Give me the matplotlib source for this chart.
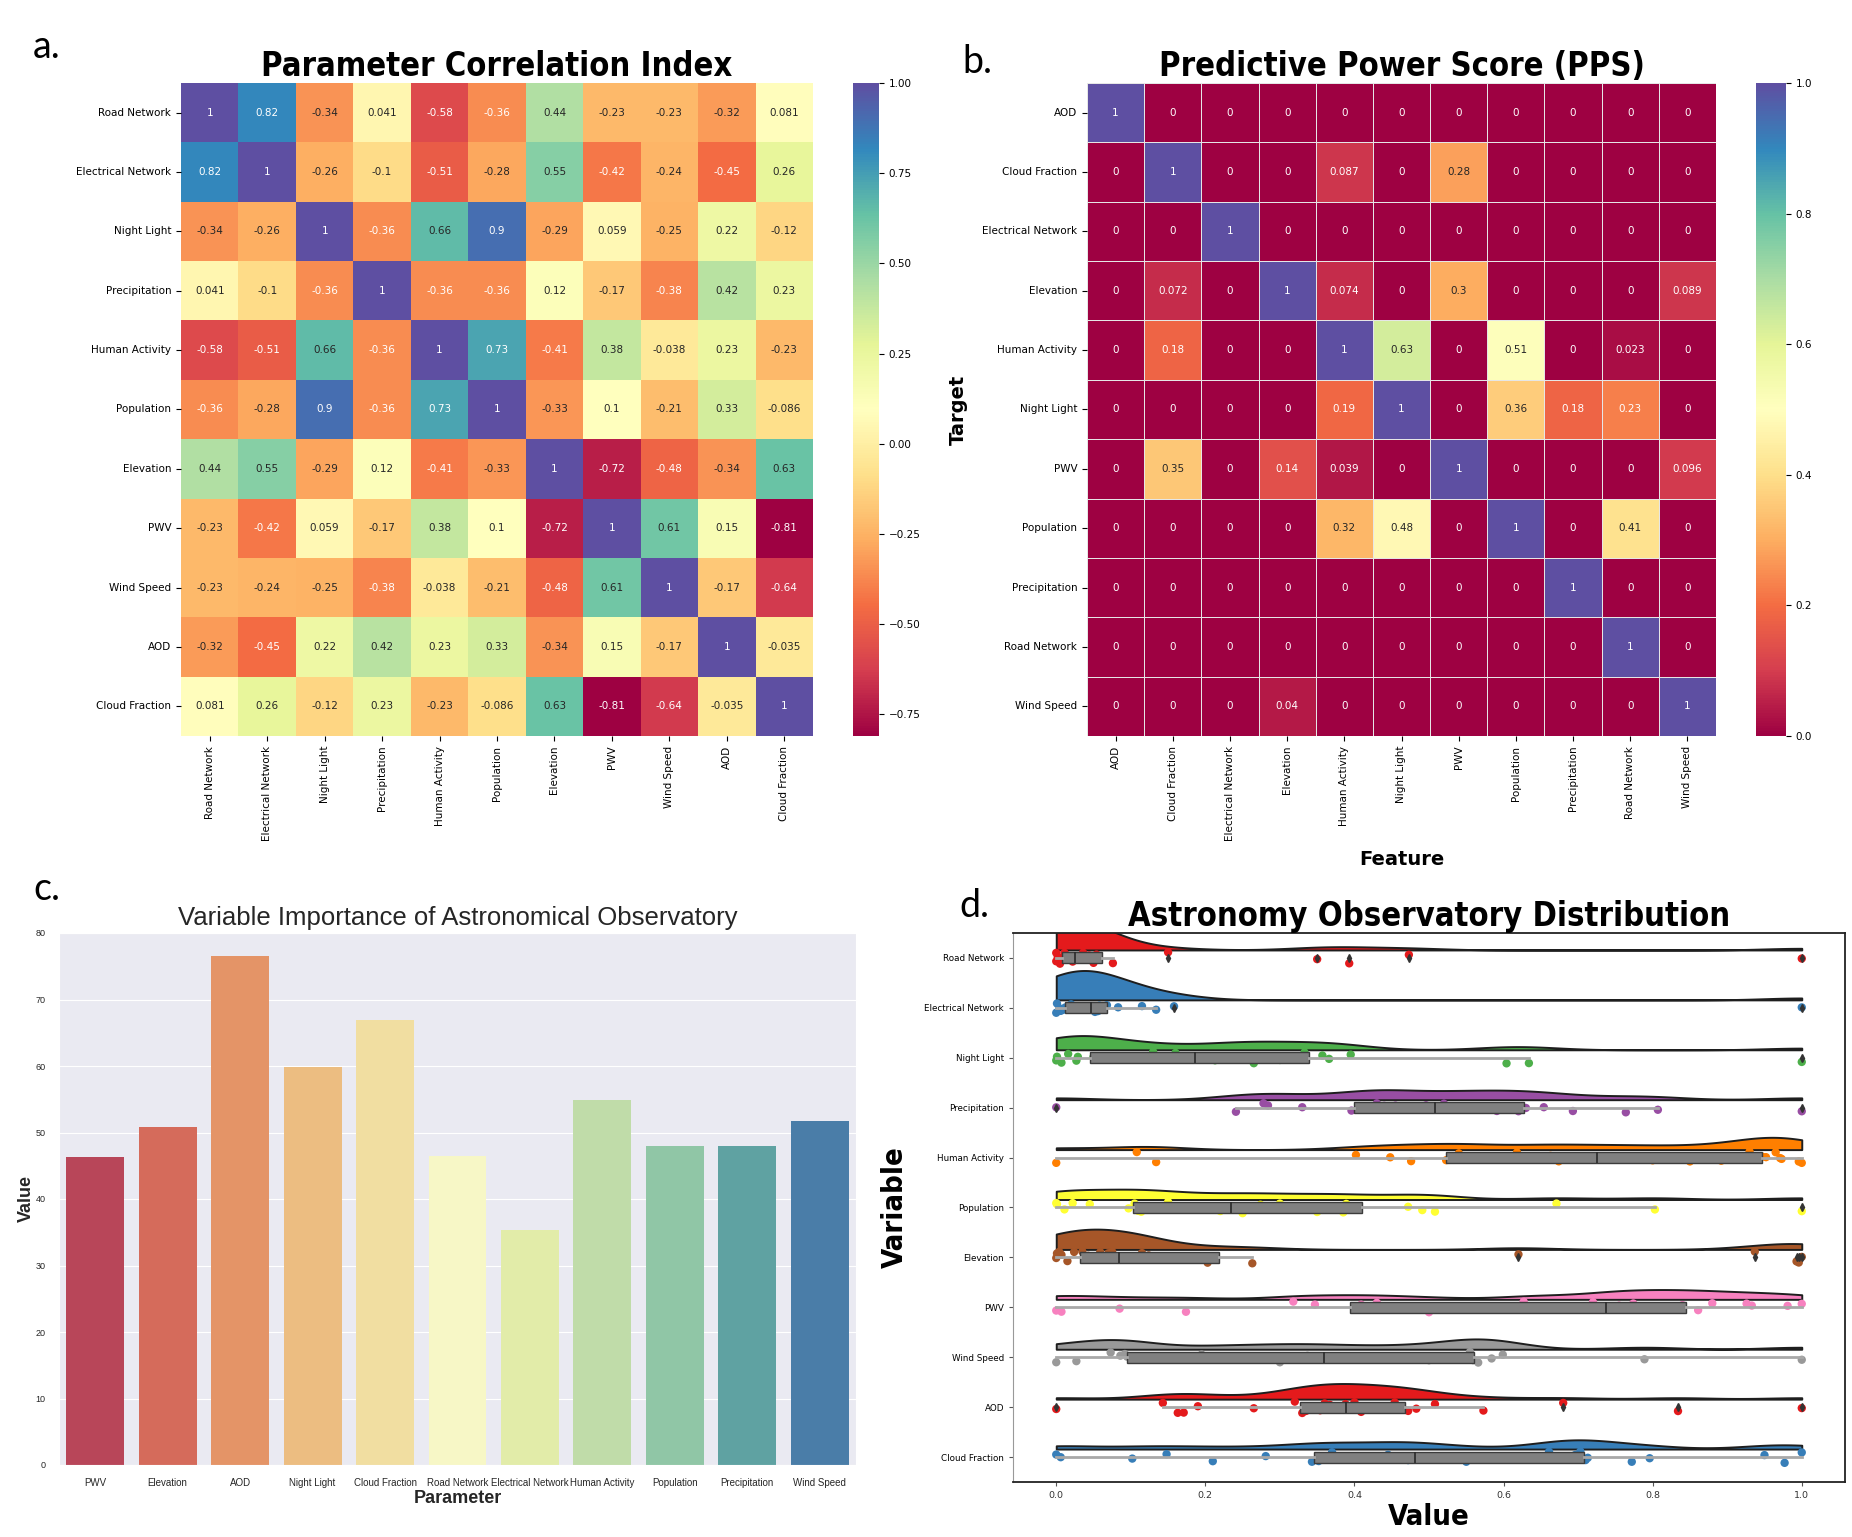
import numpy as np
import pandas as pd
import matplotlib
matplotlib.use('Agg')
import matplotlib.pyplot as plt
import seaborn as sns

# ---------------- data ----------------
corr_labels = ['Road Network', 'Electrical Network', 'Night Light', 'Precipitation',
               'Human Activity', 'Population', 'Elevation', 'PWV', 'Wind Speed', 'AOD',
               'Cloud Fraction']
corr_values = [
    [1, 0.82, -0.34, 0.041, -0.58, -0.36, 0.44, -0.23, -0.23, -0.32, 0.081],
    [0.82, 1, -0.26, -0.1, -0.51, -0.28, 0.55, -0.42, -0.24, -0.45, 0.26],
    [-0.34, -0.26, 1, -0.36, 0.66, 0.9, -0.29, 0.059, -0.25, 0.22, -0.12],
    [0.041, -0.1, -0.36, 1, -0.36, -0.36, 0.12, -0.17, -0.38, 0.42, 0.23],
    [-0.58, -0.51, 0.66, -0.36, 1, 0.73, -0.41, 0.38, -0.038, 0.23, -0.23],
    [-0.36, -0.28, 0.9, -0.36, 0.73, 1, -0.33, 0.1, -0.21, 0.33, -0.086],
    [0.44, 0.55, -0.29, 0.12, -0.41, -0.33, 1, -0.72, -0.48, -0.34, 0.63],
    [-0.23, -0.42, 0.059, -0.17, 0.38, 0.1, -0.72, 1, 0.61, 0.15, -0.81],
    [-0.23, -0.24, -0.25, -0.38, -0.038, -0.21, -0.48, 0.61, 1, -0.17, -0.64],
    [-0.32, -0.45, 0.22, 0.42, 0.23, 0.33, -0.34, 0.15, -0.17, 1, -0.035],
    [0.081, 0.26, -0.12, 0.23, -0.23, -0.086, 0.63, -0.81, -0.64, -0.035, 1],
]

pps_labels = ['AOD', 'Cloud Fraction', 'Electrical Network', 'Elevation', 'Human Activity',
              'Night Light', 'PWV', 'Population', 'Precipitation', 'Road Network', 'Wind Speed']
pps_values = [
    [1, 0, 0, 0, 0, 0, 0, 0, 0, 0, 0],
    [0, 1, 0, 0, 0.087, 0, 0.28, 0, 0, 0, 0],
    [0, 0, 1, 0, 0, 0, 0, 0, 0, 0, 0],
    [0, 0.072, 0, 1, 0.074, 0, 0.3, 0, 0, 0, 0.089],
    [0, 0.18, 0, 0, 1, 0.63, 0, 0.51, 0, 0.023, 0],
    [0, 0, 0, 0, 0.19, 1, 0, 0.36, 0.18, 0.23, 0],
    [0, 0.35, 0, 0.14, 0.039, 0, 1, 0, 0, 0, 0.096],
    [0, 0, 0, 0, 0.32, 0.48, 0, 1, 0, 0.41, 0],
    [0, 0, 0, 0, 0, 0, 0, 0, 1, 0, 0],
    [0, 0, 0, 0, 0, 0, 0, 0, 0, 1, 0],
    [0, 0, 0, 0.04, 0, 0, 0, 0, 0, 0, 1],
]

imp_params = ['PWV', 'Elevation', 'AOD', 'Night Light', 'Cloud Fraction', 'Road Network',
              'Electrical Network', 'Human Activity', 'Population', 'Precipitation', 'Wind Speed']
imp_values = [46.3, 50.8, 76.6, 59.9, 66.9, 46.4, 35.4, 54.9, 47.9, 48.0, 51.8]

dist_vars = ['Road Network', 'Electrical Network', 'Night Light', 'Precipitation',
             'Human Activity', 'Population', 'Elevation', 'PWV', 'Wind Speed', 'AOD',
             'Cloud Fraction']
road_network = [0, 0, 0.002, 0.004, 0.005, 0.006, 0.008, 0.011, 0.014, 0.017, 0.02, 0.022,
                0.028, 0.036, 0.044, 0.05, 0.054, 0.056, 0.076, 0.15, 0.35, 0.393, 0.473, 1.0]
electrical_network = [0.0, 0.001, 0.004, 0.006, 0.009, 0.012, 0.02, 0.03, 0.038, 0.042, 0.046,
                      0.052, 0.056, 0.058, 0.06, 0.068, 0.083, 0.115, 0.134, 0.158, 1.0]
night_light = [0, 0.001, 0.007, 0.016, 0.027, 0.029, 0.05, 0.06, 0.073, 0.1, 0.13, 0.16, 0.213,
               0.24, 0.261, 0.265, 0.3, 0.333, 0.357, 0.366, 0.395, 0.604, 0.634, 1.0]
precipitation = [0, 0.241, 0.278, 0.284, 0.33, 0.396, 0.41, 0.43, 0.44, 0.455, 0.496, 0.52,
                 0.548, 0.565, 0.591, 0.62, 0.63, 0.654, 0.693, 0.764, 0.807, 1.0]
human_activity = [0, 0.108, 0.134, 0.402, 0.448, 0.476, 0.523, 0.54, 0.562, 0.618, 0.663, 0.674,
                  0.726, 0.761, 0.8, 0.85, 0.892, 0.93, 0.947, 0.952, 0.965, 0.971, 0.973,
                  0.996, 1.0]
population = [0, 0.001, 0.011, 0.022, 0.045, 0.097, 0.105, 0.11, 0.114, 0.15, 0.179, 0.22,
              0.25, 0.274, 0.3, 0.35, 0.385, 0.389, 0.472, 0.491, 0.508, 0.671, 0.803, 1.0]
elevation = [0, 0.001, 0.004, 0.007, 0.015, 0.024, 0.035, 0.043, 0.059, 0.07, 0.075, 0.08,
             0.089, 0.1, 0.115, 0.124, 0.126, 0.203, 0.263, 0.62, 0.937, 0.993, 0.996, 1.0]
pwv = [0, 0.007, 0.085, 0.174, 0.318, 0.347, 0.409, 0.43, 0.5, 0.627, 0.656, 0.72, 0.755,
       0.76, 0.774, 0.8, 0.837, 0.84, 0.861, 0.88, 0.926, 0.933, 0.981, 1.0]
wind_speed = [0, 0.027, 0.073, 0.086, 0.092, 0.095, 0.195, 0.25, 0.3, 0.337, 0.38, 0.444, 0.5,
              0.555, 0.559, 0.566, 0.584, 0.599, 0.789, 1.0]
aod = [0, 0.143, 0.163, 0.171, 0.19, 0.265, 0.32, 0.33, 0.335, 0.34, 0.354, 0.36, 0.367,
       0.388, 0.39, 0.4, 0.409, 0.432, 0.445, 0.454, 0.466, 0.472, 0.483, 0.508, 0.573,
       0.68, 0.834, 1.0]
cloud_fraction = [0, 0.006, 0.102, 0.148, 0.21, 0.281, 0.343, 0.352, 0.37, 0.402, 0.445, 0.472,
                  0.478, 0.484, 0.55, 0.661, 0.669, 0.696, 0.703, 0.71, 0.713, 0.772, 0.796,
                  0.95, 0.977, 1.0]
dist_data = [road_network, electrical_network, night_light, precipitation, human_activity,
             population, elevation, pwv, wind_speed, aod, cloud_fraction]

# ---------------- figure ----------------
W, H = 1852, 1537
fig = plt.figure(figsize=(W / 100, H / 100), dpi=100)
fig.patch.set_facecolor('white')


def rect(l, t, r, b):
    return [l / W, 1 - b / H, (r - l) / W, (b - t) / H]


TITLE_KW = dict(fontsize=23.5, fontweight='bold', fontstretch='condensed')
LETTER_KW = dict(fontsize=27, family=['Lato', 'DejaVu Sans'])

# ---- panel a ----
ax_a = fig.add_axes(rect(181, 83, 813, 736))
cax_a = fig.add_axes(rect(853, 83, 879, 736))
sns.heatmap(pd.DataFrame(corr_values, index=corr_labels, columns=corr_labels), ax=ax_a,
            cbar_ax=cax_a, cmap='Spectral', annot=True, annot_kws={'size': 7.5})
ax_a.set_title('Parameter Correlation Index', pad=4, **TITLE_KW)
ax_a.tick_params(axis='x', labelsize=7.5, labelrotation=90)
ax_a.tick_params(axis='y', labelsize=7.5, labelrotation=0)
cax_a.tick_params(labelsize=7.5)
fig.text(47 / W, 1 - 47 / H, 'a.', ha='center', va='center', **LETTER_KW)

# ---- panel b ----
ax_b = fig.add_axes(rect(1087, 83, 1716, 736))
cax_b = fig.add_axes(rect(1756, 83, 1786, 736))
sns.heatmap(pd.DataFrame(pps_values, index=pps_labels, columns=pps_labels), ax=ax_b,
            cbar_ax=cax_b, cmap='Spectral', vmin=0, vmax=1, annot=True,
            annot_kws={'size': 7.5}, linewidths=0.5, linecolor='#e6e6e6')
ax_b.set_title('Predictive Power Score (PPS)', pad=4, **TITLE_KW)
ax_b.tick_params(axis='x', labelsize=7.5, labelrotation=90)
ax_b.tick_params(axis='y', labelsize=7.5, labelrotation=0)
cax_b.tick_params(labelsize=7.5)
ax_b.set_xlabel('Feature', fontsize=14, fontweight='bold')
ax_b.set_ylabel('Target', fontsize=14, fontweight='bold')
ax_b.yaxis.set_label_coords(-0.19, 0.5)
ax_b.xaxis.set_label_coords(0.5, -0.175)
fig.text(977 / W, 1 - 62 / H, 'b.', ha='center', va='center', **LETTER_KW)

# ---- panel c ----
with sns.axes_style('darkgrid'):
    ax_c = fig.add_axes(rect(59, 933, 856, 1465))
sns.barplot(x=imp_params, y=imp_values, hue=imp_params, palette='Spectral', legend=False,
            ax=ax_c, saturation=0.75)
ax_c.set_ylim(0, 80)
ax_c.set_yticks(np.arange(0, 81, 10))
ax_c.tick_params(axis='x', labelsize=7, pad=6)
ax_c.tick_params(axis='y', labelsize=6.5, pad=6)
for lab in ax_c.get_xticklabels() + ax_c.get_yticklabels():
    lab.set_family('Liberation Sans')
ax_c.set_title('Variable Importance of Astronomical Observatory', fontsize=18.5,
               family='Liberation Sans', pad=6)
ax_c.set_xlabel('Parameter', fontsize=13, fontweight='bold', family='Liberation Sans',
                labelpad=1)
ax_c.set_ylabel('Value', fontsize=13, fontweight='bold', family='Liberation Sans')
ax_c.yaxis.set_label_coords(-0.03, 0.5)
fig.text(47 / W, 1 - 889 / H, 'c.', ha='center', va='center', **LETTER_KW)

# ---- panel d ----
ax_d = fig.add_axes(rect(1013, 933, 1845, 1482))
ax_d.set_facecolor('white')
pal = sns.color_palette('Set1', 9)
colors = [pal[i % 9] for i in range(len(dist_vars))]

long_df = pd.DataFrame({
    'Variable': np.concatenate([[v] * len(d) for v, d in zip(dist_vars, dist_data)]),
    'Value': np.concatenate([np.asarray(d, float) for d in dist_data]),
})
np.random.seed(7)
sns.stripplot(data=long_df, x='Value', y='Variable', hue='Variable', order=dist_vars,
              hue_order=dist_vars, palette=colors, jitter=0.12, size=6, legend=False,
              ax=ax_d, zorder=2, linewidth=0)

bw = 0.05
scale = 0.1
for i, d in enumerate(dist_data):
    v = np.asarray(d, float)
    xs = np.linspace(v.min(), v.max(), 400)
    dens = np.exp(-0.5 * ((xs[:, None] - v[None, :]) / bw) ** 2).sum(1) / (len(v) * bw * np.sqrt(2 * np.pi))
    base = i - 0.16
    ax_d.fill_between(xs, base, base - scale * dens, facecolor=colors[i], edgecolor='#1e1e1e',
                      lw=1.4, zorder=1)

ax_d.boxplot(dist_data, positions=np.arange(len(dist_data)), orientation='horizontal',
             widths=0.22, patch_artist=True, showcaps=False, manage_ticks=False,
             boxprops=dict(facecolor='#808080', edgecolor='#3c3c3c', lw=1),
             medianprops=dict(color='#2a2a2a', lw=1.2),
             whiskerprops=dict(color='#a8a8a8', lw=2),
             flierprops=dict(marker='d', markerfacecolor='#333333', markeredgecolor='#333333',
                             markersize=4),
             zorder=3)
ax_d.set_ylim(len(dist_vars) - 0.5, -0.5)
ax_d.set_xlim(-0.058, 1.058)
ax_d.set_yticks(np.arange(len(dist_vars)))
ax_d.set_yticklabels(dist_vars)
ax_d.set_xticks(np.arange(0, 1.01, 0.2))
ax_d.tick_params(axis='y', labelsize=6.3, length=3, color='#555555')
ax_d.tick_params(axis='x', labelsize=6.8, length=3, color='#555555', labelcolor='#333333')
for side in ['top', 'right', 'bottom']:
    ax_d.spines[side].set_color('#222222')
    ax_d.spines[side].set_linewidth(1.3)
ax_d.spines['left'].set_color('#999999')
ax_d.set_title('Astronomy Observatory Distribution', pad=2, **TITLE_KW)
ax_d.set_xlabel('Value', fontsize=21, fontweight='bold', fontstretch='condensed', labelpad=2)
ax_d.set_ylabel('Variable', fontsize=21, fontweight='bold', fontstretch='condensed')
ax_d.yaxis.set_label_coords(-0.125, 0.5)
fig.text(974 / W, 1 - 906 / H, 'd.', ha='center', va='center', **LETTER_KW)

fig.savefig('out.png', dpi=100, facecolor='white')
